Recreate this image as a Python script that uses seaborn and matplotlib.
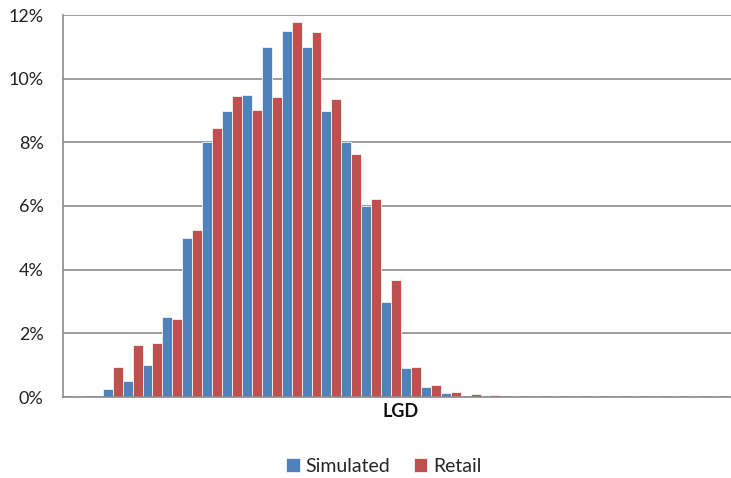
import matplotlib
matplotlib.use("Agg")
import matplotlib.pyplot as plt
import seaborn as sns
import pandas as pd

# LGD bins (34 buckets) and the share of exposures falling in each
lgd_bins = [f"B{i:02d}" for i in range(34)]
simulated = [0.0, 0.0, 0.26, 0.50, 1.00, 2.50, 5.00, 8.00, 9.00, 9.50,
             11.00, 11.50, 11.00, 9.00, 8.00, 6.00, 3.00, 0.91, 0.30, 0.12,
             0.0, 0.0, 0.0, 0.0, 0.0, 0.0, 0.0, 0.0, 0.0, 0.0,
             0.0, 0.0, 0.0, 0.0]
retail = [0.02, 0.0, 0.94, 1.64, 1.69, 2.46, 5.26, 8.46, 9.46, 9.03,
          9.43, 11.78, 11.48, 9.37, 7.64, 6.21, 3.68, 0.94, 0.37, 0.17,
          0.08, 0.05, 0.02, 0.02, 0.02, 0.02, 0.02, 0.02, 0.02, 0.02,
          0.02, 0.02, 0.02, 0.02]
series_names = ["Simulated", "Retail"]
yticks = [0, 2, 4, 6, 8, 10, 12]

df = pd.DataFrame({
    "bin": lgd_bins * 2,
    "share": simulated + retail,
    "series": [series_names[0]] * len(lgd_bins) + [series_names[1]] * len(lgd_bins),
})

sns.set_style("white")
plt.rcParams["font.family"] = ["Lato", "DejaVu Sans"]

fig = plt.figure(figsize=(7.31, 4.78), dpi=100)
ax = fig.add_axes([63 / 731, 81 / 478, 676 / 731, 382 / 478])

palette = {"Simulated": "#4F81BD", "Retail": "#C0504D"}
sns.barplot(data=df, x="bin", y="share", hue="series", order=lgd_bins,
            hue_order=series_names, palette=palette, width=1.0, gap=0,
            edgecolor="#f4f4f4", linewidth=0.6, saturation=1, ax=ax,
            legend=True)

ax.set_xlim(-0.5, len(lgd_bins) - 0.5)
ax.set_ylim(0, 12)
ax.set_yticks(yticks)
ax.set_yticklabels([f"{v}%" for v in yticks], fontsize=13, color="#222222")
ax.set_xticks([])
ax.set_ylabel("")
ax.set_xlabel("LGD", fontsize=13, fontweight="bold", color="#111111", labelpad=4)
ax.tick_params(axis="y", length=0, pad=14)

ax.grid(axis="y", color="#8c8c8c", linewidth=1.2)
ax.set_axisbelow(True)
for side in ["top", "right"]:
    ax.spines[side].set_visible(False)
ax.spines["left"].set_color("#8c8c8c")
ax.spines["left"].set_linewidth(1.2)
ax.spines["bottom"].set_color("#8c8c8c")
ax.spines["bottom"].set_linewidth(1.2)

handles, labels = ax.get_legend_handles_labels()
ax.legend_.remove()
fig.legend(handles, labels, loc="center", bbox_to_anchor=(384 / 731, 1 - 466 / 478),
           ncol=2, frameon=False, fontsize=14, handlelength=0.7, handleheight=0.7,
           handletextpad=0.3, columnspacing=1.2)

fig.savefig("out.png", dpi=100)
